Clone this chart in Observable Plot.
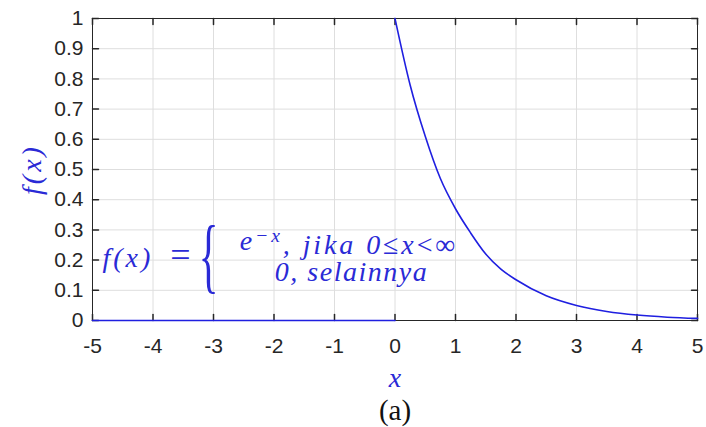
<!DOCTYPE html>
<html>
<head>
<meta charset="utf-8">
<script src="https://cdn.jsdelivr.net/npm/d3@7"></script>
<script src="https://cdn.jsdelivr.net/npm/@observablehq/plot@0.6"></script>
<style>
  html, body { margin: 0; padding: 0; background: #ffffff; }
  #chart svg { display: block; }
  #chart text.math { font-family: "Liberation Serif", "Times New Roman", serif !important; }
</style>
</head>
<body>
<div id="chart"></div>
<script>
// Piecewise density: zero on the left half, decaying on the right half
const xZero = [-5, 0];
const yZero = [0, 0];
const xDecay = [0, 0.25, 0.5, 0.75, 1, 1.25, 1.5, 1.75, 2, 2.5, 3, 3.5, 4, 4.5, 5];
const yDecay = [1, 0.78, 0.61, 0.47, 0.37, 0.29, 0.22, 0.17, 0.135, 0.082, 0.05, 0.03, 0.018, 0.011, 0.007];

// Tick values for both axes
const xTicks = [-5, -4, -3, -2, -1, 0, 1, 2, 3, 4, 5];
const yTicks = [0, 0.1, 0.2, 0.3, 0.4, 0.5, 0.6, 0.7, 0.8, 0.9, 1];

// Label texts
const yLabel = "f(x)";
const xLabel = "x";
const caption = "(a)";
const defLhs = "f(x)\u2002=";
const brace = "{";
const caseOne = "e−x, jika 0≤x<∞";
const caseTwo = "0, selainnya";

const zeroRows = xZero.map((x, i) => ({x, y: yZero[i]}));
const decayRows = xDecay.map((x, i) => ({x, y: yDecay[i]}));

const blue = "#1f1fe0";
const textBlue = "#2a2ad6";
const ink = "#262626";
const serif = "Liberation Serif";

// short inward tick drawn by a vector mark
const tickShape = {draw(context, l) { context.moveTo(0, 0); context.lineTo(0, -l); }};
const tickLen = 6;

const plot = Plot.plot({
  width: 706,
  height: 427,
  marginTop: 18,
  marginRight: 9,
  marginBottom: 107,
  marginLeft: 92,
  style: {fontSize: "21px", color: ink, background: "#ffffff"},
  x: {domain: [-5, 5]},
  y: {domain: [0, 1]},
  marks: [
    Plot.gridX(xTicks, {stroke: "#dedede", strokeOpacity: 1}),
    Plot.gridY(yTicks, {stroke: "#dedede", strokeOpacity: 1}),
    Plot.vector(xTicks, {x: d => d, y: 0, length: tickLen, rotate: 0, anchor: "start", shape: tickShape, stroke: ink}),
    Plot.vector(xTicks, {x: d => d, y: 1, length: tickLen, rotate: 180, anchor: "start", shape: tickShape, stroke: ink}),
    Plot.vector(yTicks, {x: -5, y: d => d, length: tickLen, rotate: 90, anchor: "start", shape: tickShape, stroke: ink}),
    Plot.vector(yTicks, {x: 5, y: d => d, length: tickLen, rotate: -90, anchor: "start", shape: tickShape, stroke: ink}),
    Plot.axisX({ticks: xTicks, tickSize: 0, tickPadding: 18, tickFormat: d => String(d), label: null, fill: ink, fontFamily: "Liberation Sans"}),
    Plot.axisY({ticks: yTicks, tickSize: 0, tickPadding: 9, tickFormat: d => String(d), label: null, fill: ink, fontFamily: "Liberation Sans"}),
    Plot.frame({stroke: ink, strokeWidth: 1}),
    Plot.line(zeroRows, {x: "x", y: "y", stroke: blue, strokeWidth: 1.6}),
    Plot.line(decayRows, {x: "x", y: "y", stroke: blue, strokeWidth: 1.6, curve: "monotone-x"}),
    // axis titles and caption
    Plot.text([yLabel], {text: d => d, frameAnchor: "left", dx: -60, rotate: -90, textAnchor: "middle", lineAnchor: "middle",
      fill: textBlue, fontFamily: serif, fontStyle: "italic", fontSize: 28}),
    Plot.text([xLabel], {text: d => d, frameAnchor: "bottom", dy: 58, textAnchor: "middle", lineAnchor: "middle",
      fill: textBlue, fontFamily: serif, fontStyle: "italic", fontSize: 28}),
    Plot.text([caption], {text: d => d, frameAnchor: "bottom", dy: 90, textAnchor: "middle", lineAnchor: "middle",
      fill: "#111111", fontFamily: serif, fontSize: 29}),
    // piecewise definition
    Plot.text([defLhs], {text: d => d, frameAnchor: "top-left", dx: 10, dy: 240, textAnchor: "start", lineAnchor: "middle",
      fill: textBlue, fontFamily: serif, fontStyle: "italic", fontSize: 28}),
    Plot.text([brace], {text: d => d, frameAnchor: "top-left", dx: 116, dy: 238, textAnchor: "middle", lineAnchor: "middle",
      fill: textBlue, fontFamily: serif, fontSize: 82}),
    Plot.text([caseOne], {text: d => d, frameAnchor: "top-left", dx: 256.5, dy: 223, textAnchor: "middle", lineAnchor: "middle",
      fill: textBlue, fontFamily: serif, fontStyle: "italic", fontSize: 28}),
    Plot.text([caseTwo], {text: d => d, frameAnchor: "top-left", dx: 259, dy: 254, textAnchor: "middle", lineAnchor: "middle",
      fill: textBlue, fontFamily: serif, fontStyle: "italic", fontSize: 28})
  ]
});

document.getElementById("chart").appendChild(plot);

// typographic touches: superscript exponent, upright relations, letter spacing, slender brace
const svg = d3.select(plot);
const mathTexts = new Set([yLabel, xLabel, caption, defLhs, brace, caseOne, caseTwo]);
svg.selectAll("text").each(function() {
  const t = this.textContent;
  const sel = d3.select(this);
  if (!mathTexts.has(t)) return;
  sel.classed("math", true);
  if (t === caseOne) {
    sel.text(null);
    sel.append("tspan").text("e");
    sel.append("tspan").attr("dy", "-0.45em").attr("font-size", "70%").text("−x");
    sel.append("tspan").attr("dy", "0.45em").text(", jika 0");
    sel.append("tspan").attr("font-style", "normal").text("≤");
    sel.append("tspan").text("x");
    sel.append("tspan").attr("font-style", "normal").text("<∞");
    sel.attr("letter-spacing", "2.9px");
  } else if (t === caseTwo) {
    sel.attr("letter-spacing", "1.5px");
  } else if (t === defLhs) {
    sel.text(null);
    sel.append("tspan").text("f(x)\u2002");
    sel.append("tspan").attr("font-style", "normal").attr("font-size", "36px").text("=");
    sel.attr("letter-spacing", "3px");
  } else if (t === yLabel) {
    sel.attr("letter-spacing", "3px");
  } else if (t === brace) {
    const b = this.getBBox();
    const cx = b.x + b.width / 2;
    sel.attr("transform", `${sel.attr("transform") || ""} translate(${cx},0) scale(0.5,1) translate(${-cx},0)`);
  }
});
</script>
</body>
</html>
